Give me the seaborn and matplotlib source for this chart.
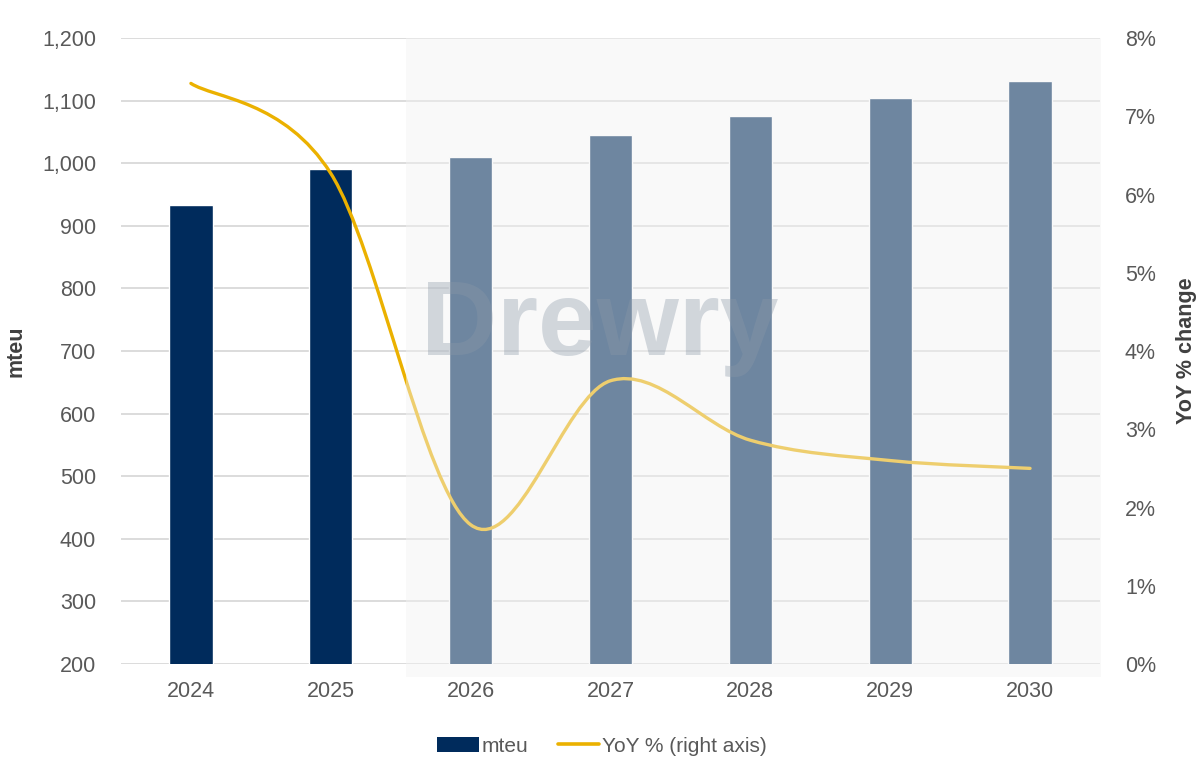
import matplotlib
matplotlib.use("Agg")
import matplotlib.pyplot as plt
import matplotlib.transforms as mtransforms
from matplotlib.path import Path
from matplotlib.patches import PathPatch, Rectangle, Patch
from matplotlib.lines import Line2D
import seaborn as sns
import pandas as pd

years = ["2024", "2025", "2026", "2027", "2028", "2029", "2030"]
mteu = [933, 991, 1010, 1045, 1075, 1104, 1131]
yoy_pct = [7.42, 6.27, 1.78, 3.62, 2.86, 2.60, 2.50]
left_ticks = [200, 300, 400, 500, 600, 700, 800, 900, 1000, 1100, 1200]
right_ticks = [0, 1, 2, 3, 4, 5, 6, 7, 8]

NAVY = "#002B5C"
GOLD = "#EBB100"
GREY = "#595959"
GRID = "#D9D9D9"

sns.set_theme(style="white")
plt.rcParams["font.family"] = ["Liberation Sans", "DejaVu Sans"]

fig = plt.figure(figsize=(12.04, 7.62), dpi=100)
ax = fig.add_axes([0.1005, 0.1286, 0.8131, 0.8215])

df = pd.DataFrame({"year": years, "mteu": mteu})
sns.barplot(data=df, x="year", y="mteu", color=NAVY, width=0.31, ax=ax,
            saturation=1, zorder=2)

ax.set_xlim(-0.5, 6.5)
ax.set_ylim(200, 1200)
ax.set_yticks(left_ticks)
ax.set_yticklabels([f"{v:,}" for v in left_ticks])
ax.yaxis.grid(True, color=GRID, linewidth=1.3, zorder=0)
ax.set_axisbelow(True)
for s in ax.spines.values():
    s.set_visible(False)
ax.tick_params(axis="both", length=0, labelsize=15.5, labelcolor=GREY)
ax.tick_params(axis="y", pad=18)
ax.tick_params(axis="x", pad=12)
ax.set_xlabel("")
ax.set_ylabel("mteu", fontsize=15.5, fontweight="bold", color="#404040", labelpad=11)

# secondary axis with smoothed YoY line
ax2 = ax.twinx()
ax2.set_ylim(0, 8)
ax2.set_yticks(right_ticks)
ax2.set_yticklabels([f"{v}%" for v in right_ticks])
for s in ax2.spines.values():
    s.set_visible(False)
ax2.tick_params(axis="y", length=0, labelsize=15.5, labelcolor=GREY, pad=18)
ax2.set_ylabel("YoY % change", fontsize=15.5, fontweight="bold", color="#404040",
               labelpad=14)
ax2.grid(False)

pts = list(zip(range(len(yoy_pct)), yoy_pct))
verts = [pts[0]]
codes = [Path.MOVETO]
n = len(pts)
for i in range(n - 1):
    p0 = pts[i - 1] if i > 0 else pts[i]
    p1 = pts[i]
    p2 = pts[i + 1]
    p3 = pts[i + 2] if i + 2 < n else pts[i + 1]
    c1 = (p1[0] + (p2[0] - p0[0]) / 6, p1[1] + (p2[1] - p0[1]) / 6)
    c2 = (p2[0] - (p3[0] - p1[0]) / 6, p2[1] - (p3[1] - p1[1]) / 6)
    verts += [c1, c2, p2]
    codes += [Path.CURVE4] * 3
ax2.add_patch(PathPatch(Path(verts, codes), facecolor="none", edgecolor=GOLD,
                        linewidth=2.4, capstyle="round", zorder=3))

# forecast shading overlay
trans = mtransforms.blended_transform_factory(ax2.transData, ax2.transAxes)
ax2.add_patch(Rectangle((1.54, -0.02), 4.97, 1.02, transform=trans,
                        facecolor="#F2F2F2", alpha=0.46, edgecolor="none",
                        zorder=5, clip_on=False))

# watermark
fig.text(0.498, 1 - 355 / 762, "Drewry", fontsize=76, fontweight="bold",
         color="#8A98A8", alpha=0.36, ha="center", va="baseline", zorder=10)

handles = [Patch(facecolor=NAVY, edgecolor="none", label="mteu"),
           Line2D([0], [0], color=GOLD, linewidth=2.6, label="YoY % (right axis)")]
fig.legend(handles=handles, loc="center", bbox_to_anchor=(0.5, 1 - 746 / 762),
           ncol=2, frameon=False, fontsize=15, labelcolor=GREY,
           handlelength=2.0, handleheight=0.7, handletextpad=0.15,
           columnspacing=1.4)

fig.savefig("out.png", dpi=100)
